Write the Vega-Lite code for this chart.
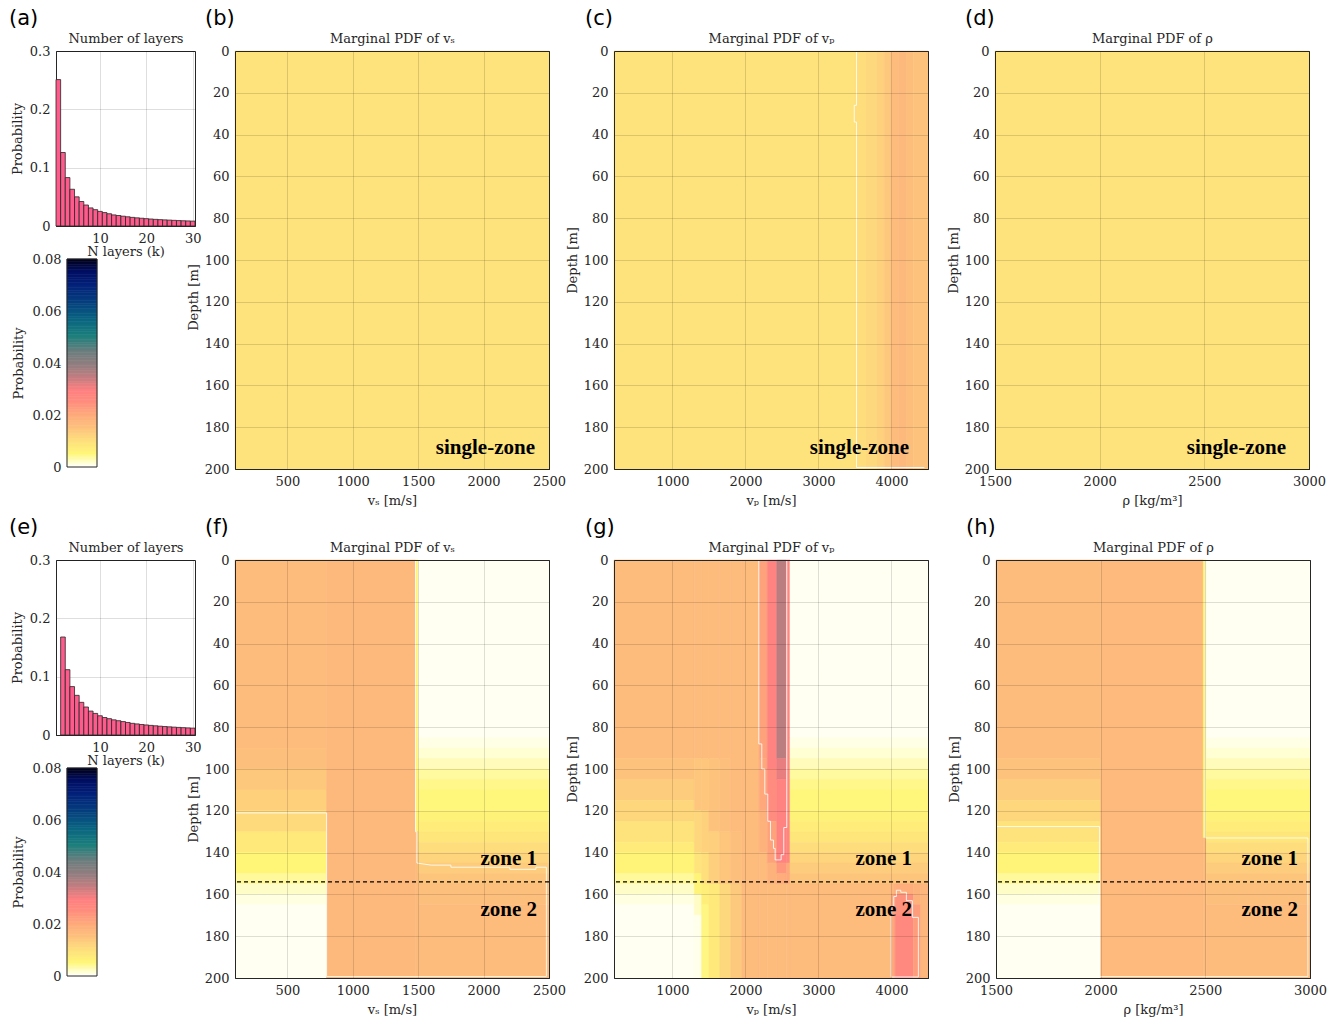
{
"$schema":"https://vega.github.io/schema/vega-lite/v6.json",
"padding":{"left":8,"top":7,"right":5,"bottom":5},
"background":"white",
"config":{
 "font":"DejaVu Serif",
 "view":{"stroke":"#262626","strokeWidth":1},
 "axis":{"labelFont":"DejaVu Serif","labelFontSize":13,"labelColor":"#262626","titleFont":"DejaVu Serif","titleFontSize":13,"titleFontWeight":"normal","titleColor":"#262626","ticks":false,"domain":true,"domainColor":"#262626","domainWidth":1,"gridColor":"#000000","gridOpacity":0.13,"labelPadding":6,"titlePadding":6,"labelFlush":false,"format":"d"},
 "title":{"font":"DejaVu Sans","fontSize":21,"fontWeight":"normal","anchor":"start","frame":"group","offset":3,"color":"#000000"}
},
"datasets":{
 "hist_a":[{"k0":0.5,"k1":1.5,"p":0.251},{"k0":1.5,"k1":2.5,"p":0.126},{"k0":2.5,"k1":3.5,"p":0.083},{"k0":3.5,"k1":4.5,"p":0.063},{"k0":4.5,"k1":5.5,"p":0.05},{"k0":5.5,"k1":6.5,"p":0.042},{"k0":6.5,"k1":7.5,"p":0.036},{"k0":7.5,"k1":8.5,"p":0.031},{"k0":8.5,"k1":9.5,"p":0.028},{"k0":9.5,"k1":10.5,"p":0.025},{"k0":10.5,"k1":11.5,"p":0.023},{"k0":11.5,"k1":12.5,"p":0.021},{"k0":12.5,"k1":13.5,"p":0.019},{"k0":13.5,"k1":14.5,"p":0.018},{"k0":14.5,"k1":15.5,"p":0.0168},{"k0":15.5,"k1":16.5,"p":0.0158},{"k0":16.5,"k1":17.5,"p":0.0148},{"k0":17.5,"k1":18.5,"p":0.014},{"k0":18.5,"k1":19.5,"p":0.0133},{"k0":19.5,"k1":20.5,"p":0.0126},{"k0":20.5,"k1":21.5,"p":0.012},{"k0":21.5,"k1":22.5,"p":0.0114},{"k0":22.5,"k1":23.5,"p":0.0109},{"k0":23.5,"k1":24.5,"p":0.0105},{"k0":24.5,"k1":25.5,"p":0.0101},{"k0":25.5,"k1":26.5,"p":0.0097},{"k0":26.5,"k1":27.5,"p":0.0093},{"k0":27.5,"k1":28.5,"p":0.009},{"k0":28.5,"k1":29.5,"p":0.0087},{"k0":29.5,"k1":30.5,"p":0.0084}],
 "hist_e":[{"k0":1.5,"k1":2.5,"p":0.168},{"k0":2.5,"k1":3.5,"p":0.112},{"k0":3.5,"k1":4.5,"p":0.083},{"k0":4.5,"k1":5.5,"p":0.068},{"k0":5.5,"k1":6.5,"p":0.056},{"k0":6.5,"k1":7.5,"p":0.048},{"k0":7.5,"k1":8.5,"p":0.041},{"k0":8.5,"k1":9.5,"p":0.037},{"k0":9.5,"k1":10.5,"p":0.033},{"k0":10.5,"k1":11.5,"p":0.03},{"k0":11.5,"k1":12.5,"p":0.028},{"k0":12.5,"k1":13.5,"p":0.026},{"k0":13.5,"k1":14.5,"p":0.0245},{"k0":14.5,"k1":15.5,"p":0.023},{"k0":15.5,"k1":16.5,"p":0.0215},{"k0":16.5,"k1":17.5,"p":0.02},{"k0":17.5,"k1":18.5,"p":0.019},{"k0":18.5,"k1":19.5,"p":0.018},{"k0":19.5,"k1":20.5,"p":0.0172},{"k0":20.5,"k1":21.5,"p":0.0165},{"k0":21.5,"k1":22.5,"p":0.0158},{"k0":22.5,"k1":23.5,"p":0.0151},{"k0":23.5,"k1":24.5,"p":0.0145},{"k0":24.5,"k1":25.5,"p":0.014},{"k0":25.5,"k1":26.5,"p":0.0135},{"k0":26.5,"k1":27.5,"p":0.013},{"k0":27.5,"k1":28.5,"p":0.0126},{"k0":28.5,"k1":29.5,"p":0.0122},{"k0":29.5,"k1":30.5,"p":0.0118}],
 "cbar":[{"v0":0,"v1":0.001},{"v0":0.001,"v1":0.002},{"v0":0.002,"v1":0.003},{"v0":0.003,"v1":0.004},{"v0":0.004,"v1":0.005},{"v0":0.005,"v1":0.006},{"v0":0.006,"v1":0.007},{"v0":0.007,"v1":0.008},{"v0":0.008,"v1":0.009},{"v0":0.009,"v1":0.01},{"v0":0.01,"v1":0.011},{"v0":0.011,"v1":0.012},{"v0":0.012,"v1":0.013},{"v0":0.013,"v1":0.014},{"v0":0.014,"v1":0.015},{"v0":0.015,"v1":0.016},{"v0":0.016,"v1":0.017},{"v0":0.017,"v1":0.018},{"v0":0.018,"v1":0.019},{"v0":0.019,"v1":0.02},{"v0":0.02,"v1":0.021},{"v0":0.021,"v1":0.022},{"v0":0.022,"v1":0.023},{"v0":0.023,"v1":0.024},{"v0":0.024,"v1":0.025},{"v0":0.025,"v1":0.026},{"v0":0.026,"v1":0.027},{"v0":0.027,"v1":0.028},{"v0":0.028,"v1":0.029},{"v0":0.029,"v1":0.03},{"v0":0.03,"v1":0.031},{"v0":0.031,"v1":0.032},{"v0":0.032,"v1":0.033},{"v0":0.033,"v1":0.034},{"v0":0.034,"v1":0.035},{"v0":0.035,"v1":0.036},{"v0":0.036,"v1":0.037},{"v0":0.037,"v1":0.038},{"v0":0.038,"v1":0.039},{"v0":0.039,"v1":0.04},{"v0":0.04,"v1":0.041},{"v0":0.041,"v1":0.042},{"v0":0.042,"v1":0.043},{"v0":0.043,"v1":0.044},{"v0":0.044,"v1":0.045},{"v0":0.045,"v1":0.046},{"v0":0.046,"v1":0.047},{"v0":0.047,"v1":0.048},{"v0":0.048,"v1":0.049},{"v0":0.049,"v1":0.05},{"v0":0.05,"v1":0.051},{"v0":0.051,"v1":0.052},{"v0":0.052,"v1":0.053},{"v0":0.053,"v1":0.054},{"v0":0.054,"v1":0.055},{"v0":0.055,"v1":0.056},{"v0":0.056,"v1":0.057},{"v0":0.057,"v1":0.058},{"v0":0.058,"v1":0.059},{"v0":0.059,"v1":0.06},{"v0":0.06,"v1":0.061},{"v0":0.061,"v1":0.062},{"v0":0.062,"v1":0.063},{"v0":0.063,"v1":0.064},{"v0":0.064,"v1":0.065},{"v0":0.065,"v1":0.066},{"v0":0.066,"v1":0.067},{"v0":0.067,"v1":0.068},{"v0":0.068,"v1":0.069},{"v0":0.069,"v1":0.07},{"v0":0.07,"v1":0.071},{"v0":0.071,"v1":0.072},{"v0":0.072,"v1":0.073},{"v0":0.073,"v1":0.074},{"v0":0.074,"v1":0.075},{"v0":0.075,"v1":0.076},{"v0":0.076,"v1":0.077},{"v0":0.077,"v1":0.078},{"v0":0.078,"v1":0.079},{"v0":0.079,"v1":0.08}],
 "cells_b":[{"x0":100,"x1":2500,"y0":0,"y1":200,"p":0.009}],
 "cells_c":[{"x0":200,"x1":3500,"y0":0,"y1":200,"p":0.009},{"x0":3500,"x1":3650,"y0":0,"y1":200,"p":0.0098},{"x0":3650,"x1":3800,"y0":0,"y1":200,"p":0.0108},{"x0":3800,"x1":3900,"y0":0,"y1":200,"p":0.012},{"x0":3900,"x1":4000,"y0":0,"y1":200,"p":0.0138},{"x0":4000,"x1":4100,"y0":0,"y1":200,"p":0.0158},{"x0":4100,"x1":4200,"y0":0,"y1":200,"p":0.0165},{"x0":4200,"x1":4300,"y0":0,"y1":200,"p":0.0155},{"x0":4300,"x1":4500,"y0":0,"y1":200,"p":0.0145}],
 "cells_d":[{"x0":1500,"x1":3000,"y0":0,"y1":200,"p":0.009}],
 "cells_f":[
  {"x0":100,"x1":800,"y0":0,"y1":90,"p":0.016},{"x0":100,"x1":800,"y0":90,"y1":100,"p":0.015},{"x0":100,"x1":800,"y0":100,"y1":110,"p":0.0138},{"x0":100,"x1":800,"y0":110,"y1":120,"p":0.0122},{"x0":100,"x1":800,"y0":120,"y1":130,"p":0.0105},{"x0":100,"x1":800,"y0":130,"y1":140,"p":0.0075},{"x0":100,"x1":800,"y0":140,"y1":150,"p":0.005},{"x0":100,"x1":800,"y0":150,"y1":155,"p":0.0035},{"x0":100,"x1":800,"y0":155,"y1":160,"p":0.0017},{"x0":100,"x1":800,"y0":160,"y1":165,"p":0.0007},{"x0":100,"x1":800,"y0":165,"y1":200,"p":0.0002},
  {"x0":800,"x1":1480,"y0":0,"y1":200,"p":0.0165},
  {"x0":1480,"x1":1500,"y0":0,"y1":130,"p":0.005},{"x0":1480,"x1":1500,"y0":130,"y1":200,"p":0.016},
  {"x0":1500,"x1":2500,"y0":0,"y1":85,"p":0.0002},{"x0":1500,"x1":2500,"y0":85,"y1":90,"p":0.0006},{"x0":1500,"x1":2500,"y0":90,"y1":95,"p":0.0012},{"x0":1500,"x1":2500,"y0":95,"y1":100,"p":0.0022},{"x0":1500,"x1":2500,"y0":100,"y1":105,"p":0.0033},{"x0":1500,"x1":2500,"y0":105,"y1":110,"p":0.0042},{"x0":1500,"x1":2500,"y0":110,"y1":120,"p":0.0048},{"x0":1500,"x1":2500,"y0":120,"y1":125,"p":0.0056},{"x0":1500,"x1":2500,"y0":125,"y1":130,"p":0.0068},{"x0":1500,"x1":2500,"y0":130,"y1":135,"p":0.0082},{"x0":1500,"x1":2500,"y0":135,"y1":140,"p":0.0098},{"x0":1500,"x1":2500,"y0":140,"y1":145,"p":0.0115},{"x0":1500,"x1":2500,"y0":145,"y1":150,"p":0.013},{"x0":1500,"x1":2500,"y0":150,"y1":155,"p":0.0143},{"x0":1500,"x1":2500,"y0":155,"y1":165,"p":0.0153},{"x0":1500,"x1":2500,"y0":165,"y1":200,"p":0.016}],
 "cells_g":[
  {"x0":200,"x1":1300,"y0":0,"y1":95,"p":0.016},{"x0":200,"x1":1300,"y0":95,"y1":105,"p":0.0145},{"x0":200,"x1":1300,"y0":105,"y1":115,"p":0.013},{"x0":200,"x1":1300,"y0":115,"y1":125,"p":0.0112},{"x0":200,"x1":1300,"y0":125,"y1":135,"p":0.009},{"x0":200,"x1":1300,"y0":135,"y1":140,"p":0.007},{"x0":200,"x1":1300,"y0":140,"y1":150,"p":0.0052},{"x0":200,"x1":1300,"y0":150,"y1":155,"p":0.0035},{"x0":200,"x1":1300,"y0":155,"y1":160,"p":0.0017},{"x0":200,"x1":1300,"y0":160,"y1":165,"p":0.0007},{"x0":200,"x1":1300,"y0":165,"y1":200,"p":0.0002},
  {"x0":1300,"x1":1400,"y0":0,"y1":95,"p":0.016},{"x0":1300,"x1":1400,"y0":95,"y1":120,"p":0.014},{"x0":1300,"x1":1400,"y0":120,"y1":140,"p":0.011},{"x0":1300,"x1":1400,"y0":140,"y1":150,"p":0.0085},{"x0":1300,"x1":1400,"y0":150,"y1":160,"p":0.0055},{"x0":1300,"x1":1400,"y0":160,"y1":170,"p":0.0018},{"x0":1300,"x1":1400,"y0":170,"y1":200,"p":0.0004},
  {"x0":1400,"x1":1500,"y0":0,"y1":95,"p":0.016},{"x0":1400,"x1":1500,"y0":95,"y1":120,"p":0.014},{"x0":1400,"x1":1500,"y0":120,"y1":140,"p":0.012},{"x0":1400,"x1":1500,"y0":140,"y1":155,"p":0.0095},{"x0":1400,"x1":1500,"y0":155,"y1":165,"p":0.0065},{"x0":1400,"x1":1500,"y0":165,"y1":200,"p":0.0045},
  {"x0":1500,"x1":1650,"y0":0,"y1":95,"p":0.016},{"x0":1500,"x1":1650,"y0":95,"y1":130,"p":0.0145},{"x0":1500,"x1":1650,"y0":130,"y1":155,"p":0.0125},{"x0":1500,"x1":1650,"y0":155,"y1":200,"p":0.0075},
  {"x0":1650,"x1":1800,"y0":0,"y1":95,"p":0.016},{"x0":1650,"x1":1800,"y0":95,"y1":130,"p":0.015},{"x0":1650,"x1":1800,"y0":130,"y1":155,"p":0.014},{"x0":1650,"x1":1800,"y0":155,"y1":200,"p":0.0108},
  {"x0":1800,"x1":1950,"y0":0,"y1":130,"p":0.016},{"x0":1800,"x1":1950,"y0":130,"y1":155,"p":0.015},{"x0":1800,"x1":1950,"y0":155,"y1":200,"p":0.0135},
  {"x0":1950,"x1":2190,"y0":0,"y1":200,"p":0.016},
  {"x0":2190,"x1":2300,"y0":0,"y1":95,"p":0.021},{"x0":2190,"x1":2300,"y0":95,"y1":120,"p":0.02},{"x0":2190,"x1":2300,"y0":120,"y1":140,"p":0.018},{"x0":2190,"x1":2300,"y0":140,"y1":200,"p":0.016},
  {"x0":2300,"x1":2430,"y0":0,"y1":100,"p":0.028},{"x0":2300,"x1":2430,"y0":100,"y1":125,"p":0.025},{"x0":2300,"x1":2430,"y0":125,"y1":145,"p":0.021},{"x0":2300,"x1":2430,"y0":145,"y1":155,"p":0.018},{"x0":2300,"x1":2430,"y0":155,"y1":200,"p":0.016},
  {"x0":2430,"x1":2560,"y0":0,"y1":95,"p":0.035},{"x0":2430,"x1":2560,"y0":95,"y1":105,"p":0.031},{"x0":2430,"x1":2560,"y0":105,"y1":145,"p":0.028},{"x0":2430,"x1":2560,"y0":145,"y1":150,"p":0.023},{"x0":2430,"x1":2560,"y0":150,"y1":155,"p":0.019},{"x0":2430,"x1":2560,"y0":155,"y1":200,"p":0.016},
  {"x0":2560,"x1":2610,"y0":0,"y1":145,"p":0.027},{"x0":2560,"x1":2610,"y0":145,"y1":155,"p":0.02},{"x0":2560,"x1":2610,"y0":155,"y1":200,"p":0.016},
  {"x0":2610,"x1":4500,"y0":0,"y1":85,"p":0.0002},{"x0":2610,"x1":4500,"y0":85,"y1":90,"p":0.0006},{"x0":2610,"x1":4500,"y0":90,"y1":95,"p":0.0012},{"x0":2610,"x1":4500,"y0":95,"y1":100,"p":0.0022},{"x0":2610,"x1":4500,"y0":100,"y1":105,"p":0.0033},{"x0":2610,"x1":4500,"y0":105,"y1":110,"p":0.0042},{"x0":2610,"x1":4500,"y0":110,"y1":120,"p":0.0048},{"x0":2610,"x1":4500,"y0":120,"y1":125,"p":0.0056},{"x0":2610,"x1":4500,"y0":125,"y1":130,"p":0.0068},{"x0":2610,"x1":4500,"y0":130,"y1":135,"p":0.0082},{"x0":2610,"x1":4500,"y0":135,"y1":140,"p":0.0098},{"x0":2610,"x1":4500,"y0":140,"y1":145,"p":0.0115},{"x0":2610,"x1":4500,"y0":145,"y1":150,"p":0.013},{"x0":2610,"x1":4500,"y0":150,"y1":155,"p":0.0143},
  {"x0":2610,"x1":4000,"y0":155,"y1":200,"p":0.016},
  {"x0":4000,"x1":4050,"y0":155,"y1":160,"p":0.017},{"x0":4000,"x1":4050,"y0":160,"y1":200,"p":0.02},
  {"x0":4050,"x1":4300,"y0":155,"y1":160,"p":0.019},{"x0":4050,"x1":4300,"y0":160,"y1":170,"p":0.024},{"x0":4050,"x1":4300,"y0":170,"y1":200,"p":0.026},
  {"x0":4300,"x1":4400,"y0":155,"y1":165,"p":0.018},{"x0":4300,"x1":4400,"y0":165,"y1":200,"p":0.022},
  {"x0":4400,"x1":4500,"y0":155,"y1":200,"p":0.017}],
 "cells_h":[
  {"x0":1500,"x1":2000,"y0":0,"y1":95,"p":0.016},{"x0":1500,"x1":2000,"y0":95,"y1":105,"p":0.0145},{"x0":1500,"x1":2000,"y0":105,"y1":115,"p":0.013},{"x0":1500,"x1":2000,"y0":115,"y1":125,"p":0.0112},{"x0":1500,"x1":2000,"y0":125,"y1":135,"p":0.009},{"x0":1500,"x1":2000,"y0":135,"y1":140,"p":0.007},{"x0":1500,"x1":2000,"y0":140,"y1":150,"p":0.0052},{"x0":1500,"x1":2000,"y0":150,"y1":155,"p":0.0035},{"x0":1500,"x1":2000,"y0":155,"y1":160,"p":0.0017},{"x0":1500,"x1":2000,"y0":160,"y1":165,"p":0.0007},{"x0":1500,"x1":2000,"y0":165,"y1":200,"p":0.0002},
  {"x0":2000,"x1":2490,"y0":0,"y1":200,"p":0.0162},
  {"x0":2490,"x1":2505,"y0":0,"y1":133,"p":0.005},{"x0":2490,"x1":2505,"y0":133,"y1":200,"p":0.016},
  {"x0":2505,"x1":3000,"y0":0,"y1":85,"p":0.0002},{"x0":2505,"x1":3000,"y0":85,"y1":90,"p":0.0006},{"x0":2505,"x1":3000,"y0":90,"y1":95,"p":0.0012},{"x0":2505,"x1":3000,"y0":95,"y1":100,"p":0.0022},{"x0":2505,"x1":3000,"y0":100,"y1":105,"p":0.0033},{"x0":2505,"x1":3000,"y0":105,"y1":110,"p":0.0042},{"x0":2505,"x1":3000,"y0":110,"y1":120,"p":0.0048},{"x0":2505,"x1":3000,"y0":120,"y1":125,"p":0.0056},{"x0":2505,"x1":3000,"y0":125,"y1":130,"p":0.0068},{"x0":2505,"x1":3000,"y0":130,"y1":135,"p":0.0082},{"x0":2505,"x1":3000,"y0":135,"y1":140,"p":0.0098},{"x0":2505,"x1":3000,"y0":140,"y1":145,"p":0.0115},{"x0":2505,"x1":3000,"y0":145,"y1":150,"p":0.013},{"x0":2505,"x1":3000,"y0":150,"y1":155,"p":0.0143},{"x0":2505,"x1":3000,"y0":155,"y1":165,"p":0.0153},{"x0":2505,"x1":3000,"y0":165,"y1":200,"p":0.016}],
 "cont_c":[{"g":"a","i":0,"x":3520,"y":0},{"g":"a","i":1,"x":3520,"y":26},{"g":"a","i":2,"x":3490,"y":26},{"g":"a","i":3,"x":3490,"y":34},{"g":"a","i":4,"x":3520,"y":34},{"g":"a","i":5,"x":3520,"y":199.3},{"g":"a","i":6,"x":4450,"y":199.3}],
 "cont_f":[{"g":"a","i":0,"x":1480,"y":0},{"g":"a","i":1,"x":1480,"y":130},{"g":"a","i":2,"x":1490,"y":130},{"g":"a","i":3,"x":1490,"y":145},{"g":"a","i":4,"x":1600,"y":146},{"g":"a","i":5,"x":1750,"y":146},{"g":"a","i":6,"x":1750,"y":147},{"g":"a","i":7,"x":2200,"y":147},{"g":"a","i":8,"x":2200,"y":148},{"g":"a","i":9,"x":2400,"y":148},{"g":"a","i":10,"x":2400,"y":147},{"g":"a","i":11,"x":2480,"y":147},{"g":"a","i":12,"x":2480,"y":199.3},{"g":"a","i":13,"x":800,"y":199.3},{"g":"a","i":14,"x":800,"y":121},{"g":"a","i":15,"x":100,"y":121}],
 "cont_g":[{"g":"a","i":0,"x":2183,"y":0},{"g":"a","i":1,"x":2183,"y":88},{"g":"a","i":2,"x":2224,"y":88},{"g":"a","i":3,"x":2224,"y":100},{"g":"a","i":4,"x":2265,"y":100},{"g":"a","i":5,"x":2265,"y":112},{"g":"a","i":6,"x":2306,"y":112},{"g":"a","i":7,"x":2306,"y":125},{"g":"a","i":8,"x":2343,"y":125},{"g":"a","i":9,"x":2343,"y":134},{"g":"a","i":10,"x":2384,"y":134},{"g":"a","i":11,"x":2384,"y":138},{"g":"a","i":12,"x":2407,"y":138},{"g":"a","i":13,"x":2407,"y":143.5},{"g":"a","i":14,"x":2489,"y":143.5},{"g":"a","i":15,"x":2489,"y":141},{"g":"a","i":16,"x":2525,"y":141},{"g":"a","i":17,"x":2525,"y":128},{"g":"a","i":18,"x":2566,"y":128},{"g":"a","i":19,"x":2566,"y":0},
  {"g":"b","i":0,"x":3995,"y":199.5},{"g":"b","i":1,"x":3995,"y":166},{"g":"b","i":2,"x":4031,"y":166},{"g":"b","i":3,"x":4031,"y":161},{"g":"b","i":4,"x":4067,"y":161},{"g":"b","i":5,"x":4067,"y":158},{"g":"b","i":6,"x":4127,"y":158},{"g":"b","i":7,"x":4127,"y":159},{"g":"b","i":8,"x":4204,"y":159},{"g":"b","i":9,"x":4204,"y":163},{"g":"b","i":10,"x":4286,"y":163},{"g":"b","i":11,"x":4286,"y":171},{"g":"b","i":12,"x":4368,"y":171},{"g":"b","i":13,"x":4368,"y":199.5},{"g":"b","i":14,"x":3995,"y":199.5}],
 "cont_h":[{"g":"a","i":0,"x":1500,"y":127.5},{"g":"a","i":1,"x":1995,"y":127.5},{"g":"a","i":2,"x":1995,"y":199.3},{"g":"a","i":3,"x":2990,"y":199.3},{"g":"a","i":4,"x":2990,"y":133},{"g":"a","i":5,"x":2500,"y":133},{"g":"a","i":6,"x":2500,"y":0}],
 "lab_b":[{"t":"single-zone","x":2393,"y":190}],
 "lab_c":[{"t":"single-zone","x":4240,"y":190}],
 "lab_d":[{"t":"single-zone","x":2890,"y":190}],
 "lab_f":[{"t":"zone 1","x":2409,"y":143},{"t":"zone 2","x":2409,"y":167.5}],
 "lab_g":[{"t":"zone 1","x":4281,"y":143},{"t":"zone 2","x":4281,"y":167.5}],
 "lab_h":[{"t":"zone 1","x":2943,"y":143},{"t":"zone 2","x":2943,"y":167.5}]
},
"vconcat":[
 {"hconcat":[
  {"hconcat":[
   {"vconcat":[
    {"width":139,"height":175,"title":{"text":"(a)","dx":-47},
     "resolve":{"axis":{"x":"independent","y":"independent"}},
     "layer":[
      {"data":{"name":"hist_a"},"mark":{"type":"rect","color":"#FF5A8C","stroke":"#262626","strokeWidth":0.8},
       "encoding":{"x":{"field":"k0","type":"quantitative","scale":{"domain":[0.5,30.5],"nice":false,"zero":false},"axis":{"values":[10,20,30],"title":"N layers (k)","zindex":0,"titlePadding":0}},
        "x2":{"field":"k1"},
        "y":{"field":"p","type":"quantitative","scale":{"domain":[0,0.3],"nice":false,"zero":false},"axis":{"values":[0,0.1,0.2,0.3],"format":".1~f","title":"Probability","zindex":0,"titlePadding":5}},
        "y2":{"datum":0}}},
      {"data":{"name":"hist_a"},"mark":{"type":"point","opacity":0},
       "encoding":{"x":{"field":"k0","type":"quantitative","scale":{"domain":[0.5,30.5],"nice":false,"zero":false},"axis":{"orient":"top","labels":false,"grid":false,"domain":false,"title":"Number of layers","titlePadding":6}},
        "y":{"field":"p","type":"quantitative","scale":{"domain":[0,0.3],"nice":false,"zero":false},"axis":null}}}
     ]},
    {"width":41,"height":208,"view":{"stroke":null},
     "resolve":{"axis":{"x":"independent","y":"independent"}},
     "layer":[
      {"data":{"name":"cbar"},"mark":{"type":"rect","strokeWidth":0.6},
       "encoding":{"x":{"datum":11,"type":"quantitative","scale":{"domain":[0,41],"nice":false,"zero":false},"axis":null},
        "x2":{"datum":41},
        "y":{"field":"v0","type":"quantitative","scale":{"domain":[0,0.08],"nice":false,"zero":false},"axis":{"values":[0,0.02,0.04,0.06,0.08],"format":".2~f","title":"Probability","grid":false,"domain":false,"offset":-11,"labelPadding":6,"titlePadding":7}},
        "y2":{"field":"v1"},
        "color":{"field":"v0","type":"quantitative","legend":null,"scale":{"domain":[0,0.001,0.005,0.01,0.015,0.02,0.025,0.029,0.033,0.038,0.044,0.05,0.056,0.063,0.07,0.075,0.08],"range":["#FFFFF8","#FFFFD8","#FFF577","#FEDD7C","#FDC07C","#FEA87B","#FF8C7E","#FF8080","#D07C80","#9A7E80","#6C7E7E","#1C7F7B","#0A6680","#063F7E","#021F78","#000E60","#000010"],"interpolate":"rgb"}},
        "stroke":{"field":"v0","type":"quantitative","legend":null,"scale":{"domain":[0,0.001,0.005,0.01,0.015,0.02,0.025,0.029,0.033,0.038,0.044,0.05,0.056,0.063,0.07,0.075,0.08],"range":["#FFFFF8","#FFFFD8","#FFF577","#FEDD7C","#FDC07C","#FEA87B","#FF8C7E","#FF8080","#D07C80","#9A7E80","#6C7E7E","#1C7F7B","#0A6680","#063F7E","#021F78","#000E60","#000010"],"interpolate":"rgb"}}}},
      {"data":{"values":[{}]},"mark":{"type":"rect","fillOpacity":0,"stroke":"#262626","strokeWidth":1},
       "encoding":{"x":{"datum":11,"type":"quantitative","scale":{"domain":[0,41],"nice":false,"zero":false},"axis":null},"x2":{"datum":41},
        "y":{"datum":0,"type":"quantitative","scale":{"domain":[0,0.08],"nice":false,"zero":false},"axis":null},"y2":{"datum":0.08}}}
     ]}
   ],"spacing":-7},
   {"width":314,"height":418,"title":{"text":"(b)","dx":-30},
    "resolve":{"axis":{"x":"independent","y":"independent"}},
    "layer":[
     {"data":{"name":"cells_b"},"mark":{"type":"rect","strokeWidth":0.6},
      "encoding":{"x":{"field":"x0","type":"quantitative","scale":{"domain":[100,2500],"nice":false,"zero":false},"axis":{"values":[500,1000,1500,2000,2500],"title":"vₛ [m/s]","zindex":1}},
       "x2":{"field":"x1"},
       "y":{"field":"y0","type":"quantitative","scale":{"domain":[0,200],"reverse":true,"nice":false,"zero":false},"axis":{"values":[0,20,40,60,80,100,120,140,160,180,200],"title":"Depth [m]","titlePadding":4,"titleY":246,"zindex":1}},
       "y2":{"field":"y1"},
       "color":{"field":"p","type":"quantitative","legend":null,"scale":{"domain":[0,0.001,0.005,0.01,0.015,0.02,0.025,0.029,0.033,0.038,0.044,0.05,0.056,0.063,0.07,0.075,0.08],"range":["#FFFFF8","#FFFFD8","#FFF577","#FEDD7C","#FDC07C","#FEA87B","#FF8C7E","#FF8080","#D07C80","#9A7E80","#6C7E7E","#1C7F7B","#0A6680","#063F7E","#021F78","#000E60","#000010"],"interpolate":"rgb"}},
       "stroke":{"field":"p","type":"quantitative","legend":null,"scale":{"domain":[0,0.001,0.005,0.01,0.015,0.02,0.025,0.029,0.033,0.038,0.044,0.05,0.056,0.063,0.07,0.075,0.08],"range":["#FFFFF8","#FFFFD8","#FFF577","#FEDD7C","#FDC07C","#FEA87B","#FF8C7E","#FF8080","#D07C80","#9A7E80","#6C7E7E","#1C7F7B","#0A6680","#063F7E","#021F78","#000E60","#000010"],"interpolate":"rgb"}}}},
     {"data":{"name":"lab_b"},"mark":{"type":"text","font":"Liberation Serif","fontWeight":"bold","fontSize":21,"align":"right","baseline":"middle","color":"#000000"},
      "encoding":{"x":{"field":"x","type":"quantitative","scale":{"domain":[100,2500],"nice":false,"zero":false},"axis":{"orient":"top","labels":false,"grid":false,"title":"Marginal PDF of  vₛ","titlePadding":6,"zindex":1}},
       "y":{"field":"y","type":"quantitative","scale":{"domain":[0,200],"reverse":true,"nice":false,"zero":false},"axis":{"orient":"right","labels":false,"grid":false,"title":null,"zindex":1}},
       "text":{"field":"t"}}}
    ]}
  ],"spacing":-16},
  {"hconcat":[
   {"width":314,"height":418,"title":{"text":"(c)","dx":-29},
    "resolve":{"axis":{"x":"independent","y":"independent"}},
    "layer":[
     {"data":{"name":"cells_c"},"mark":{"type":"rect","strokeWidth":0.6},
      "encoding":{"x":{"field":"x0","type":"quantitative","scale":{"domain":[200,4500],"nice":false,"zero":false},"axis":{"values":[1000,2000,3000,4000],"title":"vₚ [m/s]","zindex":1}},
       "x2":{"field":"x1"},
       "y":{"field":"y0","type":"quantitative","scale":{"domain":[0,200],"reverse":true,"nice":false,"zero":false},"axis":{"values":[0,20,40,60,80,100,120,140,160,180,200],"title":"Depth [m]","titlePadding":4,"zindex":1}},
       "y2":{"field":"y1"},
       "color":{"field":"p","type":"quantitative","legend":null,"scale":{"domain":[0,0.001,0.005,0.01,0.015,0.02,0.025,0.029,0.033,0.038,0.044,0.05,0.056,0.063,0.07,0.075,0.08],"range":["#FFFFF8","#FFFFD8","#FFF577","#FEDD7C","#FDC07C","#FEA87B","#FF8C7E","#FF8080","#D07C80","#9A7E80","#6C7E7E","#1C7F7B","#0A6680","#063F7E","#021F78","#000E60","#000010"],"interpolate":"rgb"}},
       "stroke":{"field":"p","type":"quantitative","legend":null,"scale":{"domain":[0,0.001,0.005,0.01,0.015,0.02,0.025,0.029,0.033,0.038,0.044,0.05,0.056,0.063,0.07,0.075,0.08],"range":["#FFFFF8","#FFFFD8","#FFF577","#FEDD7C","#FDC07C","#FEA87B","#FF8C7E","#FF8080","#D07C80","#9A7E80","#6C7E7E","#1C7F7B","#0A6680","#063F7E","#021F78","#000E60","#000010"],"interpolate":"rgb"}}}},
     {"data":{"name":"cont_c"},"mark":{"type":"line","color":"#FFFFFF","strokeWidth":1,"opacity":0.85},
      "encoding":{"x":{"field":"x","type":"quantitative","scale":{"domain":[200,4500],"nice":false,"zero":false},"axis":null},
       "y":{"field":"y","type":"quantitative","scale":{"domain":[0,200],"reverse":true,"nice":false,"zero":false},"axis":null},
       "order":{"field":"i"},"detail":{"field":"g"}}},
     {"data":{"name":"lab_c"},"mark":{"type":"text","font":"Liberation Serif","fontWeight":"bold","fontSize":21,"align":"right","baseline":"middle","color":"#000000"},
      "encoding":{"x":{"field":"x","type":"quantitative","scale":{"domain":[200,4500],"nice":false,"zero":false},"axis":{"orient":"top","labels":false,"grid":false,"title":"Marginal PDF of  vₚ","titlePadding":6,"zindex":1}},
       "y":{"field":"y","type":"quantitative","scale":{"domain":[0,200],"reverse":true,"nice":false,"zero":false},"axis":{"orient":"right","labels":false,"grid":false,"title":null,"zindex":1}},
       "text":{"field":"t"}}}
    ]},
   {"width":314,"height":418,"title":{"text":"(d)","dx":-30},
    "resolve":{"axis":{"x":"independent","y":"independent"}},
    "layer":[
     {"data":{"name":"cells_d"},"mark":{"type":"rect","strokeWidth":0.6},
      "encoding":{"x":{"field":"x0","type":"quantitative","scale":{"domain":[1500,3000],"nice":false,"zero":false},"axis":{"values":[1500,2000,2500,3000],"title":"ρ [kg/m³]","zindex":1}},
       "x2":{"field":"x1"},
       "y":{"field":"y0","type":"quantitative","scale":{"domain":[0,200],"reverse":true,"nice":false,"zero":false},"axis":{"values":[0,20,40,60,80,100,120,140,160,180,200],"title":"Depth [m]","titlePadding":4,"zindex":1}},
       "y2":{"field":"y1"},
       "color":{"field":"p","type":"quantitative","legend":null,"scale":{"domain":[0,0.001,0.005,0.01,0.015,0.02,0.025,0.029,0.033,0.038,0.044,0.05,0.056,0.063,0.07,0.075,0.08],"range":["#FFFFF8","#FFFFD8","#FFF577","#FEDD7C","#FDC07C","#FEA87B","#FF8C7E","#FF8080","#D07C80","#9A7E80","#6C7E7E","#1C7F7B","#0A6680","#063F7E","#021F78","#000E60","#000010"],"interpolate":"rgb"}},
       "stroke":{"field":"p","type":"quantitative","legend":null,"scale":{"domain":[0,0.001,0.005,0.01,0.015,0.02,0.025,0.029,0.033,0.038,0.044,0.05,0.056,0.063,0.07,0.075,0.08],"range":["#FFFFF8","#FFFFD8","#FFF577","#FEDD7C","#FDC07C","#FEA87B","#FF8C7E","#FF8080","#D07C80","#9A7E80","#6C7E7E","#1C7F7B","#0A6680","#063F7E","#021F78","#000E60","#000010"],"interpolate":"rgb"}}}},
     {"data":{"name":"lab_d"},"mark":{"type":"text","font":"Liberation Serif","fontWeight":"bold","fontSize":21,"align":"right","baseline":"middle","color":"#000000"},
      "encoding":{"x":{"field":"x","type":"quantitative","scale":{"domain":[1500,3000],"nice":false,"zero":false},"axis":{"orient":"top","labels":false,"grid":false,"title":"Marginal PDF of  ρ","titlePadding":6,"zindex":1}},
       "y":{"field":"y","type":"quantitative","scale":{"domain":[0,200],"reverse":true,"nice":false,"zero":false},"axis":{"orient":"right","labels":false,"grid":false,"title":null,"zindex":1}},
       "text":{"field":"t"}}}
    ]}
  ],"spacing":17}
 ],"spacing":-2},
 {"hconcat":[
  {"hconcat":[
   {"vconcat":[
    {"width":139,"height":175,"title":{"text":"(e)","dx":-47},
     "resolve":{"axis":{"x":"independent","y":"independent"}},
     "layer":[
      {"data":{"name":"hist_e"},"mark":{"type":"rect","color":"#FF5A8C","stroke":"#262626","strokeWidth":0.8},
       "encoding":{"x":{"field":"k0","type":"quantitative","scale":{"domain":[0.5,30.5],"nice":false,"zero":false},"axis":{"values":[10,20,30],"title":"N layers (k)","zindex":0,"titlePadding":0}},
        "x2":{"field":"k1"},
        "y":{"field":"p","type":"quantitative","scale":{"domain":[0,0.3],"nice":false,"zero":false},"axis":{"values":[0,0.1,0.2,0.3],"format":".1~f","title":"Probability","zindex":0,"titlePadding":5}},
        "y2":{"datum":0}}},
      {"data":{"name":"hist_e"},"mark":{"type":"point","opacity":0},
       "encoding":{"x":{"field":"k0","type":"quantitative","scale":{"domain":[0.5,30.5],"nice":false,"zero":false},"axis":{"orient":"top","labels":false,"grid":false,"domain":false,"title":"Number of layers","titlePadding":6}},
        "y":{"field":"p","type":"quantitative","scale":{"domain":[0,0.3],"nice":false,"zero":false},"axis":null}}}
     ]},
    {"width":41,"height":208,"view":{"stroke":null},
     "resolve":{"axis":{"x":"independent","y":"independent"}},
     "layer":[
      {"data":{"name":"cbar"},"mark":{"type":"rect","strokeWidth":0.6},
       "encoding":{"x":{"datum":11,"type":"quantitative","scale":{"domain":[0,41],"nice":false,"zero":false},"axis":null},
        "x2":{"datum":41},
        "y":{"field":"v0","type":"quantitative","scale":{"domain":[0,0.08],"nice":false,"zero":false},"axis":{"values":[0,0.02,0.04,0.06,0.08],"format":".2~f","title":"Probability","grid":false,"domain":false,"offset":-11,"labelPadding":6,"titlePadding":7}},
        "y2":{"field":"v1"},
        "color":{"field":"v0","type":"quantitative","legend":null,"scale":{"domain":[0,0.001,0.005,0.01,0.015,0.02,0.025,0.029,0.033,0.038,0.044,0.05,0.056,0.063,0.07,0.075,0.08],"range":["#FFFFF8","#FFFFD8","#FFF577","#FEDD7C","#FDC07C","#FEA87B","#FF8C7E","#FF8080","#D07C80","#9A7E80","#6C7E7E","#1C7F7B","#0A6680","#063F7E","#021F78","#000E60","#000010"],"interpolate":"rgb"}},
        "stroke":{"field":"v0","type":"quantitative","legend":null,"scale":{"domain":[0,0.001,0.005,0.01,0.015,0.02,0.025,0.029,0.033,0.038,0.044,0.05,0.056,0.063,0.07,0.075,0.08],"range":["#FFFFF8","#FFFFD8","#FFF577","#FEDD7C","#FDC07C","#FEA87B","#FF8C7E","#FF8080","#D07C80","#9A7E80","#6C7E7E","#1C7F7B","#0A6680","#063F7E","#021F78","#000E60","#000010"],"interpolate":"rgb"}}}},
      {"data":{"values":[{}]},"mark":{"type":"rect","fillOpacity":0,"stroke":"#262626","strokeWidth":1},
       "encoding":{"x":{"datum":11,"type":"quantitative","scale":{"domain":[0,41],"nice":false,"zero":false},"axis":null},"x2":{"datum":41},
        "y":{"datum":0,"type":"quantitative","scale":{"domain":[0,0.08],"nice":false,"zero":false},"axis":null},"y2":{"datum":0.08}}}
     ]}
   ],"spacing":-7},
   {"width":314,"height":418,"title":{"text":"(f)","dx":-30},
    "resolve":{"axis":{"x":"independent","y":"independent"}},
    "layer":[
     {"data":{"name":"cells_f"},"mark":{"type":"rect","strokeWidth":0.6},
      "encoding":{"x":{"field":"x0","type":"quantitative","scale":{"domain":[100,2500],"nice":false,"zero":false},"axis":{"values":[500,1000,1500,2000,2500],"title":"vₛ [m/s]","zindex":1}},
       "x2":{"field":"x1"},
       "y":{"field":"y0","type":"quantitative","scale":{"domain":[0,200],"reverse":true,"nice":false,"zero":false},"axis":{"values":[0,20,40,60,80,100,120,140,160,180,200],"title":"Depth [m]","titlePadding":4,"titleY":249,"zindex":1}},
       "y2":{"field":"y1"},
       "color":{"field":"p","type":"quantitative","legend":null,"scale":{"domain":[0,0.001,0.005,0.01,0.015,0.02,0.025,0.029,0.033,0.038,0.044,0.05,0.056,0.063,0.07,0.075,0.08],"range":["#FFFFF8","#FFFFD8","#FFF577","#FEDD7C","#FDC07C","#FEA87B","#FF8C7E","#FF8080","#D07C80","#9A7E80","#6C7E7E","#1C7F7B","#0A6680","#063F7E","#021F78","#000E60","#000010"],"interpolate":"rgb"}},
       "stroke":{"field":"p","type":"quantitative","legend":null,"scale":{"domain":[0,0.001,0.005,0.01,0.015,0.02,0.025,0.029,0.033,0.038,0.044,0.05,0.056,0.063,0.07,0.075,0.08],"range":["#FFFFF8","#FFFFD8","#FFF577","#FEDD7C","#FDC07C","#FEA87B","#FF8C7E","#FF8080","#D07C80","#9A7E80","#6C7E7E","#1C7F7B","#0A6680","#063F7E","#021F78","#000E60","#000010"],"interpolate":"rgb"}}}},
     {"data":{"name":"cont_f"},"mark":{"type":"line","color":"#FFFFFF","strokeWidth":1,"opacity":0.85},
      "encoding":{"x":{"field":"x","type":"quantitative","scale":{"domain":[100,2500],"nice":false,"zero":false},"axis":null},
       "y":{"field":"y","type":"quantitative","scale":{"domain":[0,200],"reverse":true,"nice":false,"zero":false},"axis":null},
       "order":{"field":"i"},"detail":{"field":"g"}}},
     {"data":{"values":[{}]},"mark":{"type":"rule","strokeDash":[4,3],"color":"#000000","strokeWidth":1.2},
      "encoding":{"y":{"datum":154,"type":"quantitative","scale":{"domain":[0,200],"reverse":true,"nice":false,"zero":false},"axis":null}}},
     {"data":{"name":"lab_f"},"mark":{"type":"text","font":"Liberation Serif","fontWeight":"bold","fontSize":21,"align":"right","baseline":"middle","color":"#000000"},
      "encoding":{"x":{"field":"x","type":"quantitative","scale":{"domain":[100,2500],"nice":false,"zero":false},"axis":{"orient":"top","labels":false,"grid":false,"title":"Marginal PDF of  vₛ","titlePadding":6,"zindex":1}},
       "y":{"field":"y","type":"quantitative","scale":{"domain":[0,200],"reverse":true,"nice":false,"zero":false},"axis":{"orient":"right","labels":false,"grid":false,"title":null,"zindex":1}},
       "text":{"field":"t"}}}
    ]}
  ],"spacing":-16},
  {"hconcat":[
   {"width":314,"height":418,"title":{"text":"(g)","dx":-29},
    "resolve":{"axis":{"x":"independent","y":"independent"}},
    "layer":[
     {"data":{"name":"cells_g"},"mark":{"type":"rect","strokeWidth":0.6},
      "encoding":{"x":{"field":"x0","type":"quantitative","scale":{"domain":[200,4500],"nice":false,"zero":false},"axis":{"values":[1000,2000,3000,4000],"title":"vₚ [m/s]","zindex":1}},
       "x2":{"field":"x1"},
       "y":{"field":"y0","type":"quantitative","scale":{"domain":[0,200],"reverse":true,"nice":false,"zero":false},"axis":{"values":[0,20,40,60,80,100,120,140,160,180,200],"title":"Depth [m]","titlePadding":4,"zindex":1}},
       "y2":{"field":"y1"},
       "color":{"field":"p","type":"quantitative","legend":null,"scale":{"domain":[0,0.001,0.005,0.01,0.015,0.02,0.025,0.029,0.033,0.038,0.044,0.05,0.056,0.063,0.07,0.075,0.08],"range":["#FFFFF8","#FFFFD8","#FFF577","#FEDD7C","#FDC07C","#FEA87B","#FF8C7E","#FF8080","#D07C80","#9A7E80","#6C7E7E","#1C7F7B","#0A6680","#063F7E","#021F78","#000E60","#000010"],"interpolate":"rgb"}},
       "stroke":{"field":"p","type":"quantitative","legend":null,"scale":{"domain":[0,0.001,0.005,0.01,0.015,0.02,0.025,0.029,0.033,0.038,0.044,0.05,0.056,0.063,0.07,0.075,0.08],"range":["#FFFFF8","#FFFFD8","#FFF577","#FEDD7C","#FDC07C","#FEA87B","#FF8C7E","#FF8080","#D07C80","#9A7E80","#6C7E7E","#1C7F7B","#0A6680","#063F7E","#021F78","#000E60","#000010"],"interpolate":"rgb"}}}},
     {"data":{"name":"cont_g"},"mark":{"type":"line","color":"#FFFFFF","strokeWidth":1,"opacity":0.85},
      "encoding":{"x":{"field":"x","type":"quantitative","scale":{"domain":[200,4500],"nice":false,"zero":false},"axis":null},
       "y":{"field":"y","type":"quantitative","scale":{"domain":[0,200],"reverse":true,"nice":false,"zero":false},"axis":null},
       "order":{"field":"i"},"detail":{"field":"g"}}},
     {"data":{"values":[{}]},"mark":{"type":"rule","strokeDash":[4,3],"color":"#000000","strokeWidth":1.2},
      "encoding":{"y":{"datum":154,"type":"quantitative","scale":{"domain":[0,200],"reverse":true,"nice":false,"zero":false},"axis":null}}},
     {"data":{"name":"lab_g"},"mark":{"type":"text","font":"Liberation Serif","fontWeight":"bold","fontSize":21,"align":"right","baseline":"middle","color":"#000000"},
      "encoding":{"x":{"field":"x","type":"quantitative","scale":{"domain":[200,4500],"nice":false,"zero":false},"axis":{"orient":"top","labels":false,"grid":false,"title":"Marginal PDF of  vₚ","titlePadding":6,"zindex":1}},
       "y":{"field":"y","type":"quantitative","scale":{"domain":[0,200],"reverse":true,"nice":false,"zero":false},"axis":{"orient":"right","labels":false,"grid":false,"title":null,"zindex":1}},
       "text":{"field":"t"}}}
    ]},
   {"width":314,"height":418,"title":{"text":"(h)","dx":-30},
    "resolve":{"axis":{"x":"independent","y":"independent"}},
    "layer":[
     {"data":{"name":"cells_h"},"mark":{"type":"rect","strokeWidth":0.6},
      "encoding":{"x":{"field":"x0","type":"quantitative","scale":{"domain":[1500,3000],"nice":false,"zero":false},"axis":{"values":[1500,2000,2500,3000],"title":"ρ [kg/m³]","zindex":1}},
       "x2":{"field":"x1"},
       "y":{"field":"y0","type":"quantitative","scale":{"domain":[0,200],"reverse":true,"nice":false,"zero":false},"axis":{"values":[0,20,40,60,80,100,120,140,160,180,200],"title":"Depth [m]","titlePadding":4,"zindex":1}},
       "y2":{"field":"y1"},
       "color":{"field":"p","type":"quantitative","legend":null,"scale":{"domain":[0,0.001,0.005,0.01,0.015,0.02,0.025,0.029,0.033,0.038,0.044,0.05,0.056,0.063,0.07,0.075,0.08],"range":["#FFFFF8","#FFFFD8","#FFF577","#FEDD7C","#FDC07C","#FEA87B","#FF8C7E","#FF8080","#D07C80","#9A7E80","#6C7E7E","#1C7F7B","#0A6680","#063F7E","#021F78","#000E60","#000010"],"interpolate":"rgb"}},
       "stroke":{"field":"p","type":"quantitative","legend":null,"scale":{"domain":[0,0.001,0.005,0.01,0.015,0.02,0.025,0.029,0.033,0.038,0.044,0.05,0.056,0.063,0.07,0.075,0.08],"range":["#FFFFF8","#FFFFD8","#FFF577","#FEDD7C","#FDC07C","#FEA87B","#FF8C7E","#FF8080","#D07C80","#9A7E80","#6C7E7E","#1C7F7B","#0A6680","#063F7E","#021F78","#000E60","#000010"],"interpolate":"rgb"}}}},
     {"data":{"name":"cont_h"},"mark":{"type":"line","color":"#FFFFFF","strokeWidth":1,"opacity":0.85},
      "encoding":{"x":{"field":"x","type":"quantitative","scale":{"domain":[1500,3000],"nice":false,"zero":false},"axis":null},
       "y":{"field":"y","type":"quantitative","scale":{"domain":[0,200],"reverse":true,"nice":false,"zero":false},"axis":null},
       "order":{"field":"i"},"detail":{"field":"g"}}},
     {"data":{"values":[{}]},"mark":{"type":"rule","strokeDash":[4,3],"color":"#000000","strokeWidth":1.2},
      "encoding":{"y":{"datum":154,"type":"quantitative","scale":{"domain":[0,200],"reverse":true,"nice":false,"zero":false},"axis":null}}},
     {"data":{"name":"lab_h"},"mark":{"type":"text","font":"Liberation Serif","fontWeight":"bold","fontSize":21,"align":"right","baseline":"middle","color":"#000000"},
      "encoding":{"x":{"field":"x","type":"quantitative","scale":{"domain":[1500,3000],"nice":false,"zero":false},"axis":{"orient":"top","labels":false,"grid":false,"title":"Marginal PDF of  ρ","titlePadding":6,"zindex":1}},
       "y":{"field":"y","type":"quantitative","scale":{"domain":[0,200],"reverse":true,"nice":false,"zero":false},"axis":{"orient":"right","labels":false,"grid":false,"title":null,"zindex":1}},
       "text":{"field":"t"}}}
    ]}
  ],"spacing":17}
 ],"spacing":-2}
],
"spacing":8
}
